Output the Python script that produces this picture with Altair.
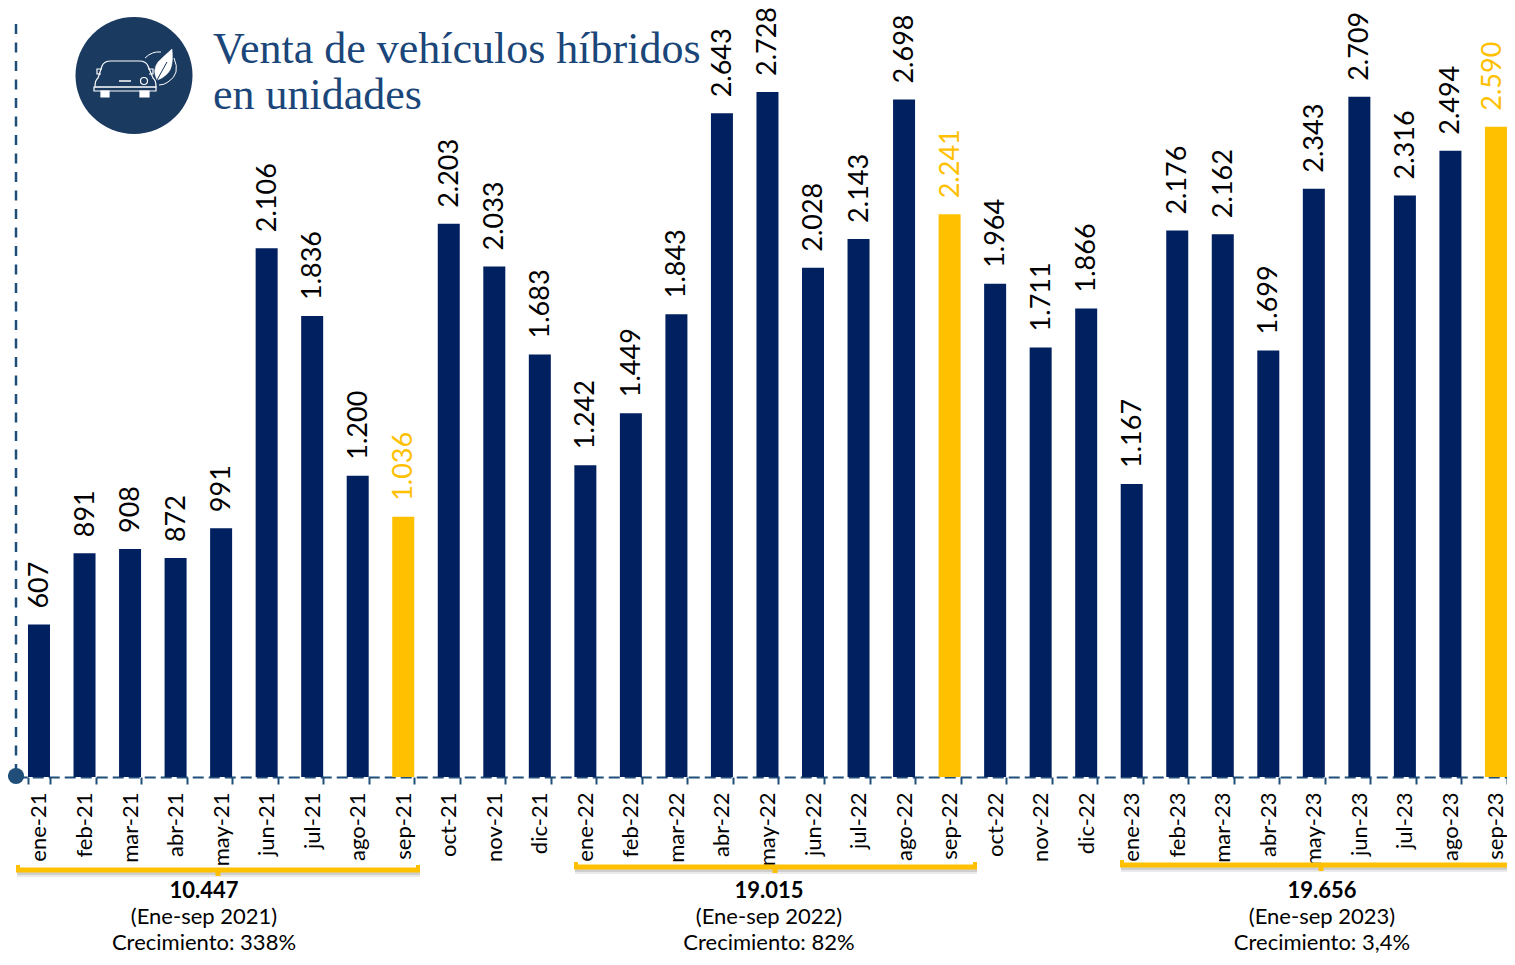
import re
import altair as alt
import pandas as pd

months = ["ene-21","feb-21","mar-21","abr-21","may-21","jun-21","jul-21","ago-21","sep-21","oct-21","nov-21","dic-21",
          "ene-22","feb-22","mar-22","abr-22","may-22","jun-22","jul-22","ago-22","sep-22","oct-22","nov-22","dic-22",
          "ene-23","feb-23","mar-23","abr-23","may-23","jun-23","jul-23","ago-23","sep-23"]
units = [607,891,908,872,991,2106,1836,1200,1036,2203,2033,1683,
         1242,1449,1843,2643,2728,2028,2143,2698,2241,1964,1711,1866,
         1167,2176,2162,1699,2343,2709,2316,2494,2590]
title_lines = ["Venta de vehículos híbridos", "en unidades"]
summaries = [("10.447","(Ene-sep 2021)","Crecimiento: 338%"),
             ("19.015","(Ene-sep 2022)","Crecimiento: 82%"),
             ("19.656","(Ene-sep 2023)","Crecimiento: 3,4%")]

NAVY, GOLD, AXIS, FONT = "#002060", "#FFC000", "#1F4E79", "Lato"
df = pd.DataFrame({"mes": months, "v": units})
one = alt.Data(values=[{"k": 1}])
X = lambda v: alt.value(v - 8)
Y = lambda v: alt.value(v - 8)

x_scale = alt.Scale(domain=months, range=[8.23, 1510.72], paddingInner=0.517, paddingOuter=0.2585)
y_scale = alt.Scale(domain=[0, 3062.6], range=[769, 0], nice=False)
is_sep = "indexof(datum.mes,'sep')===0"
is_last = "datum.mes==='sep-23'"

base = alt.Chart(df).encode(
    x=alt.X("mes:N", scale=x_scale, sort=months, title=None,
            axis=alt.Axis(orient="bottom", labelAngle=270, labelAlign="right", labelBaseline="middle", labelFont=FONT, labelFontSize=22,
                          labelColor="#000000", labelPadding=8, labelOverlap=False, labelFlush=False,
                          tickBand="extent", tickSize=7, tickColor=AXIS, tickWidth=2,
                          domainColor=AXIS, domainWidth=2, domainDash=[11, 5], grid=False)),
    y=alt.Y("v:Q", scale=y_scale, axis=None),
)
bars = base.mark_bar(size=22).encode(color=alt.condition(is_sep, alt.value(GOLD), alt.value(NAVY)))
label_base = base.transform_calculate(t="replace(format(datum.v, ','), ',', '.')")
label_mark = dict(angle=270, align="left", baseline="middle", dx=16, font=FONT, fontSize=27)
labels = label_base.transform_filter("!(" + is_last + ")").mark_text(**label_mark).encode(
    text="t:N", color=alt.condition(is_sep, alt.value(GOLD), alt.value("#000000")), xOffset=alt.value(12))
label_last = label_base.transform_filter(is_last).mark_text(**label_mark).encode(
    text="t:N", color=alt.value(GOLD), xOffset=alt.value(8))

def rule(x1, y1, x2, y2, color_, w, op=1.0, dash=None):
    kw = {"strokeDash": dash} if dash else {}
    return alt.Chart(one).mark_rule(color=color_, strokeWidth=w, opacity=op, **kw).encode(
        x=X(x1), x2=X(x2), y=Y(y1), y2=Y(y2))

def text(s, x, y, size, color_="#000000", bold=False, font=FONT, align="center"):
    return alt.Chart(alt.Data(values=[{"t": s}])).mark_text(
        font=font, fontSize=size, fontWeight="bold" if bold else "normal", align=align, baseline="middle", color=color_
    ).encode(x=X(x), y=Y(y), text="t:N")

def bracket(l, r, y, c):
    parts = []
    for off, op, col, w in [(4, 0.12, "#555555", 6), (3, 0.18, "#555555", 4)]:
        parts.append(rule(l + 1, y + off, min(r, 1515), y + off, col, w, op))
    parts += [rule(l, y, r, y, GOLD, 5), rule(l + 2, y - 5, l + 2, y, GOLD, 4),
              rule(r - 2, y - 5, r - 2, y, GOLD, 4), rule(c, y, c, y + 6, GOLD, 5)]
    return parts

def icon(d, fill=None, stroke="#FFFFFF", w=1.2):
    """Draw an SVG path given in page pixels, as a symbol around the badge centre."""
    R, cx, cy = 50, 134, 75
    nums = iter(re.findall(r"[A-Za-z]|-?[\d.]+", d))
    out, isx = [], True
    for tok in nums:
        if tok.isalpha():
            out.append(tok); isx = True
        else:
            v = float(tok)
            out.append(f"{(v - cx) / R:.4f}" if isx else f"{(v - cy) / R:.4f}")
            isx = not isx
    kw = {"fill": fill, "filled": True} if fill else {"filled": False}
    return alt.Chart(one).mark_point(shape=" ".join(out), size=(2 * R) ** 2, stroke=stroke, strokeWidth=w, opacity=1, **kw).encode(
        x=X(cx), y=Y(cy))

badge = alt.Chart(one).mark_point(shape="circle", size=(2 * 58.5) ** 2, filled=True, fill="#1A3A60", opacity=1, strokeWidth=0).encode(x=X(134), y=Y(75.5))
icons = [
    icon("M95 87 Q95 80 98 78 L102 66 Q104 61 111 61 L139 61 Q146 61 148 66 L153 78 Q156 80 156 87 Z"),
    icon("M94 87 L156 87 L156 91 L94 91 Z"),
    icon("M101 91 L109 91 L109 97 L101 97 Z", fill="#FFFFFF"),
    icon("M140 91 L149 91 L149 97 L140 97 Z", fill="#FFFFFF"),
    icon("M119 81 L131 81", w=1.5),
    icon("M140.5 81 Q140.5 77.5 144 77.5 Q147.5 77.5 147.5 81 Q147.5 84.5 144 84.5 Q140.5 84.5 140.5 81 Z"),
    icon("M102 69 L97 69 L97 74 L101 74"),
    icon("M148 69 L153 69 L153 74 L149 74"),
    icon("M172 49 Q174 68 167 74 Q162 79 157 80 Q152 70 158 62 Q164 56 172 49 Z", fill="#FFFFFF", w=0.5),
    icon("M145 58 Q152 51 161 52 M174 58 Q181 74 168 82 Q164 85 159 85", w=1),
    icon("M157 80 L167 62", stroke="#1A3A60", w=1),
]

layers = [rule(16, 24, 16, 777, AXIS, 2.5, dash=[10, 8.5]), bars, labels, label_last]
layers += [alt.Chart(one).mark_point(shape="circle", size=260, filled=True, fill=AXIS, opacity=1, strokeWidth=0).encode(x=X(16), y=Y(776))]
layers += [badge] + icons
layers += [text(title_lines[0], 213, 50, 44, "#1B4679", font="Liberation Serif", align="left"),
           text(title_lines[1], 213, 96, 44, "#1B4679", font="Liberation Serif", align="left")]
layers += bracket(16, 420, 870, 218) + bracket(574, 977, 867, 775) + bracket(1120, 1530, 865, 1321)
for (a, b, c), cx, ys in zip(summaries, [204, 769, 1322], [(891, 917, 943), (891, 917, 943), (891, 917, 943)]):
    layers += [text(a, cx, ys[0], 22, bold=True), text(b, cx, ys[1], 22), text(c, cx, ys[2], 22)]

chart = alt.layer(*layers).properties(
    width=1499, height=769, padding={"left": 0, "top": 0, "right": 0, "bottom": 180},
    autosize=alt.AutoSizeParams(type="none"), background="#FFFFFF"
).configure_view(stroke=None)

chart.save("out.html", embed_options={"renderer": "svg", "actions": False})
